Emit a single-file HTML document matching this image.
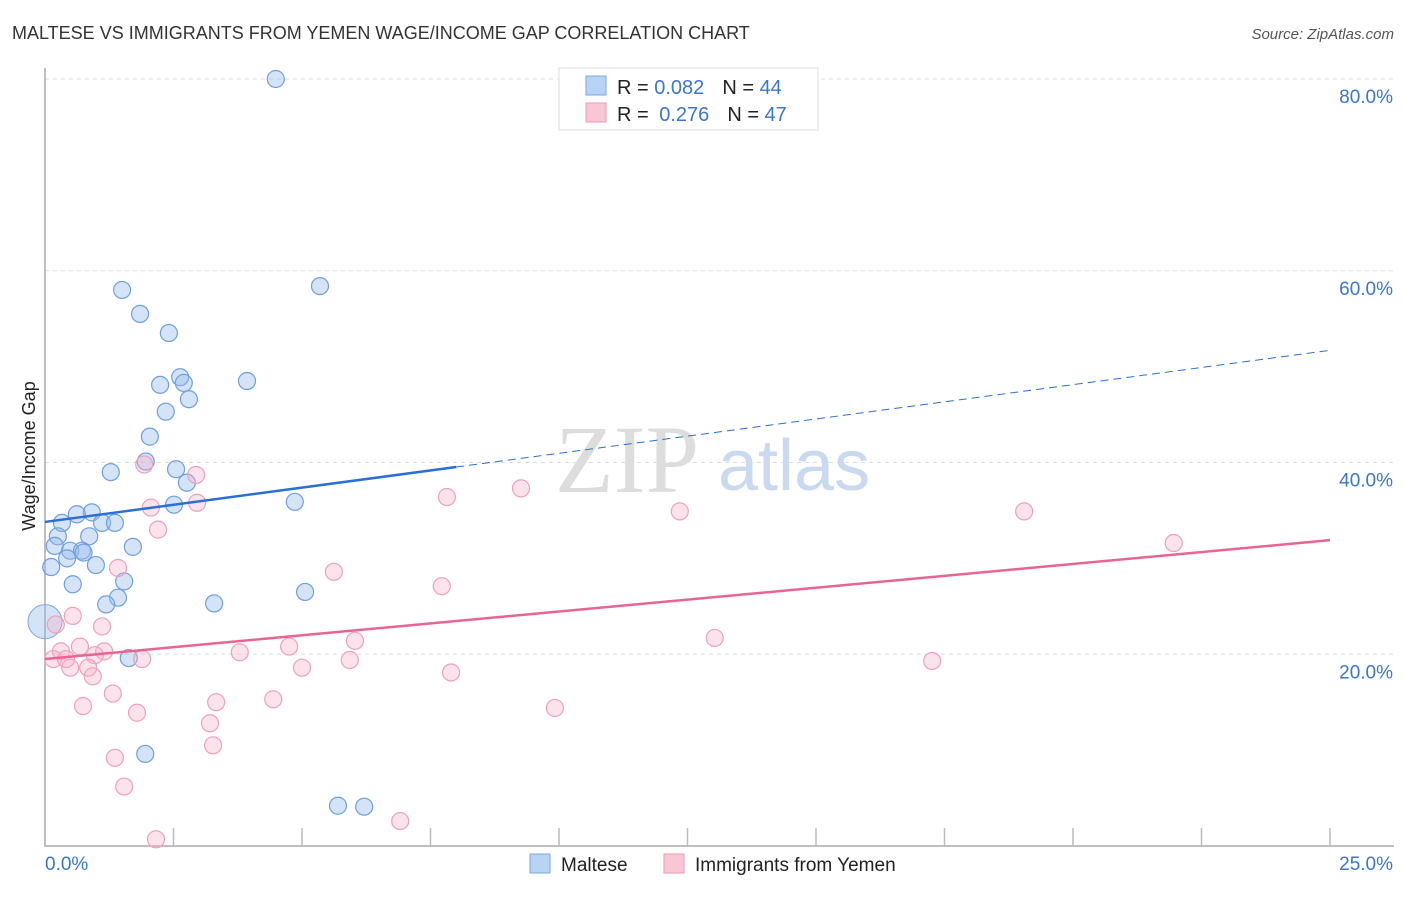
<!DOCTYPE html>
<html><head><meta charset="utf-8"><style>
body{margin:0;background:#fff;font-family:"Liberation Sans",sans-serif}
</style></head><body>
<svg width="1406" height="892" xmlns="http://www.w3.org/2000/svg">
<text x="12" y="39" font-size="18" fill="#333">MALTESE VS IMMIGRANTS FROM YEMEN WAGE/INCOME GAP CORRELATION CHART</text>
<text x="1394" y="39" font-size="15" fill="#555" font-style="italic" text-anchor="end">Source: ZipAtlas.com</text>
<g id="grid"></g>
<text x="555" y="492" font-size="96" fill="#ddd" font-family="Liberation Serif">ZIP</text>
<text x="718" y="490" font-size="72" fill="#c9d9ef">atlas</text>
<text x="35" y="456" font-size="18" fill="#222" text-anchor="middle" transform="rotate(-90 35 456)">Wage/Income Gap</text>
<g id="marks"></g>
<g id="lines"></g>
<g>
<rect x="559" y="68" width="259" height="62" fill="#fff" stroke="#ddd"/>
<rect x="586" y="76" width="20" height="19" fill="#b9d3f5" stroke="#7ba7e0"/>
<rect x="586" y="103" width="20" height="19" fill="#f9c6d5" stroke="#ee9ab4"/>
<text x="617" y="94" font-size="20" fill="#222">R = <tspan fill="#3a76d0">0.082</tspan><tspan dx="18">N = </tspan><tspan fill="#3a76d0">44</tspan></text>
<text x="617" y="121" font-size="20" fill="#222">R = <tspan fill="#3a76d0" dx="5">0.276</tspan><tspan dx="18">N = </tspan><tspan fill="#3a76d0">47</tspan></text>
</g>
<g>
<rect x="530" y="854" width="20" height="19" fill="#b9d3f5" stroke="#7ba7e0"/>
<text x="561" y="871" font-size="19" fill="#222">Maltese</text>
<rect x="664" y="854" width="20" height="19" fill="#f9c6d5" stroke="#ee9ab4"/>
<text x="695" y="871" font-size="19" fill="#222">Immigrants from Yemen</text>
</g>
</svg>
<script>
const blueX=[4.49,1.50,5.35,1.85,2.41,2.63,2.24,2.70,3.93,2.80,2.35,2.04,1.96,2.55,1.28,2.76,2.51,4.86,0.91,0.62,0.33,1.11,1.36,0.25,0.86,0.19,1.71,0.49,0.72,0.43,0.99,0.12,1.54,0.54,5.06,1.42,1.19,3.29,1.63,1.95,5.70,6.21,0.75];
const blueY=[80.0,58.0,58.4,55.5,53.5,48.9,48.1,48.3,48.5,46.6,45.3,42.7,40.1,39.3,39.0,37.9,35.6,35.9,34.8,34.6,33.7,33.7,33.7,32.3,32.3,31.3,31.2,30.8,30.8,30.0,29.3,29.1,27.6,27.3,26.5,25.9,25.2,25.3,19.6,9.6,4.2,4.1,30.6];
const pinkX=[1.93,2.94,7.82,9.26,2.06,2.96,12.35,19.05,2.20,21.96,5.62,1.42,7.72,0.54,0.21,1.11,13.03,6.03,0.68,0.31,4.75,3.79,1.15,0.97,0.16,0.41,1.89,5.93,17.26,0.49,0.84,5.00,7.90,0.93,1.32,4.44,3.33,0.74,9.92,1.79,3.21,3.27,1.36,1.54,2.16,6.91];
const pinkY=[39.8,38.7,36.4,37.3,35.3,35.8,34.9,34.9,33.0,31.6,28.6,29.0,27.1,24.0,23.1,22.9,21.7,21.4,20.8,20.3,20.8,20.2,20.3,19.9,19.5,19.5,19.5,19.4,19.3,18.6,18.6,18.6,18.1,17.7,15.9,15.3,15.0,14.6,14.4,13.9,12.8,10.5,9.2,6.2,0.7,2.6];
const yTicks=[20,40,60,80];
const xTickLabels=["0.0%","25.0%"];
const blueTrend=[33.8,51.7];const blueSolidEnd=8.0;
const pinkTrend=[19.5,31.9];
const NS="http://www.w3.org/2000/svg";
const sx=v=>45+v/25*1285, sy=v=>846-v/20*191.75;
function mk(t,a,p){const e=document.createElementNS(NS,t);for(const k in a)e.setAttribute(k,a[k]);document.getElementById(p).appendChild(e);return e;}
yTicks.forEach(t=>{
 const l=mk('line',{x1:45,x2:1394,y1:sy(t),y2:sy(t),stroke:'#ddd','stroke-dasharray':'4,4'},'grid');
 
 
 const tx=mk('text',{x:1393,y:sy(t)+24,'font-size':19,fill:'#3a76d0','text-anchor':'end'},'grid');tx.textContent=t.toFixed(1)+'%';
 
 
});
const ax=mk('path',{d:'M45 68V846H1394',fill:'none',stroke:'#aaa','stroke-width':1.5},'grid');


for(let i=1;i<=10;i++){const t=mk('line',{x1:sx(i*2.5),x2:sx(i*2.5),y1:828,y2:846,stroke:'#bbb','stroke-width':1.5},'grid');
 
 }
const xl0=mk('text',{x:45,y:870,'font-size':19,fill:'#3a76d0'},'grid');xl0.textContent=xTickLabels[0];


const xl1=mk('text',{x:1393,y:870,'font-size':19,fill:'#3a76d0','text-anchor':'end'},'grid');xl1.textContent=xTickLabels[1];


const bb=mk('circle',{cx:sx(0),cy:sy(23.4),r:17,fill:'rgba(150,185,235,0.4)',stroke:'#7ba7e0'},'marks');


blueX.forEach((x,i)=>{const c=mk('circle',{cx:sx(x),cy:sy(blueY[i]),r:8.5,fill:'rgba(150,185,235,0.4)',stroke:'#6d9fe0','stroke-width':1.2},'marks');
 
 });
pinkX.forEach((x,i)=>{const c=mk('circle',{cx:sx(x),cy:sy(pinkY[i]),r:8.5,fill:'rgba(246,175,198,0.35)',stroke:'#f0a0ba','stroke-width':1.2},'marks');
 
 });
const by=x=>blueTrend[0]+(blueTrend[1]-blueTrend[0])*x/25;
const l1=mk('line',{x1:sx(0),y1:sy(by(0)),x2:sx(blueSolidEnd),y2:sy(by(blueSolidEnd)),stroke:'#2a6fd6','stroke-width':2.5},'lines');


const l2=mk('line',{x1:sx(blueSolidEnd),y1:sy(by(blueSolidEnd)),x2:sx(25),y2:sy(by(25)),stroke:'#2a6fd6','stroke-width':1,'stroke-dasharray':'8,5'},'lines');


const l3=mk('line',{x1:sx(0),y1:sy(pinkTrend[0]),x2:sx(25),y2:sy(pinkTrend[1]),stroke:'#e8658f','stroke-width':2.5},'lines');


</script>
</body></html>
